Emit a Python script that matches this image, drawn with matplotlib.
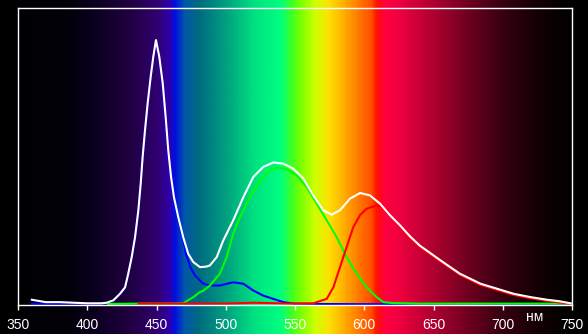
import numpy as np
import matplotlib
matplotlib.use("Agg")
import matplotlib.pyplot as plt
from matplotlib.colors import LinearSegmentedColormap

# spectrum of the display: white and the three primaries (relative intensity)
white_nm = [360, 365, 370, 380, 390, 400, 410, 414, 418.8, 423.6, 427.3, 429.6, 432.1, 434.5,
            436.9, 438.6, 440.0, 441.7, 443.6, 445.8, 447.7, 449.6, 452.0, 454.5, 456.6,
            458.5, 460.5, 462.6, 465.7, 469.3, 472.9, 476.6, 481.4, 486.2, 488.6, 493.5,
            498.2, 505.4, 512.7, 519.9, 527.1, 534.3, 541.6, 548.8, 556, 563.2, 570.4,
            576.5, 582.5, 589.7, 597, 604.1, 611.4, 618.6, 625.8, 633, 640, 655, 669, 684,
            696, 708, 720, 732, 741, 749]
white = [0.016, 0.012, 0.008, 0.008, 0.006, 0.004, 0.004, 0.006, 0.014, 0.036, 0.058, 0.104,
         0.16, 0.227, 0.318, 0.408, 0.498, 0.588, 0.678, 0.768, 0.836, 0.892, 0.836, 0.746,
         0.633, 0.52, 0.430, 0.362, 0.295, 0.227, 0.171, 0.143, 0.126, 0.128, 0.132, 0.160,
         0.216, 0.284, 0.362, 0.430, 0.464, 0.479, 0.475, 0.458, 0.425, 0.368, 0.318, 0.303,
         0.318, 0.357, 0.376, 0.368, 0.340, 0.301, 0.267, 0.230, 0.199, 0.149, 0.104, 0.070,
         0.053, 0.036, 0.025, 0.016, 0.011, 0.004]

blue_nm = [360, 370, 380, 390, 400, 410, 414, 418.8, 423.6, 427.3, 429.6, 432.1, 434.5, 436.9,
           438.6, 440.0, 441.7, 443.6, 445.8, 447.7, 449.6, 452.0, 454.5, 456.6, 458.5,
           460.5, 462.6, 465.7, 469.3, 471.3, 474.5, 477.8, 481.4, 483.8, 488.6, 495.8,
           505.4, 512.7, 519.9, 527.1, 534.3, 541.6, 548.8, 560, 600, 750]
blue = [0.002, 0.003, 0.003, 0.003, 0.003, 0.003, 0.005, 0.012, 0.034, 0.056, 0.10, 0.156,
        0.223, 0.314, 0.404, 0.494, 0.584, 0.674, 0.764, 0.832, 0.888, 0.832, 0.742, 0.629,
        0.516, 0.426, 0.358, 0.290, 0.222, 0.17, 0.125, 0.098, 0.081, 0.07, 0.064, 0.064,
        0.075, 0.070, 0.047, 0.030, 0.019, 0.008, 0.003, 0.002, 0.001, 0.0]

green_nm = [415, 440, 460, 469.3, 476.6, 481.4, 483.8, 488.6, 495.8, 500.7, 505.4, 510.3,
            517.5, 524.7, 531.9, 537.9, 544, 551.2, 558.4, 565.7, 572.9, 580.1, 587.3, 594.5,
            601.7, 608.9, 613.8, 620, 640, 700, 750]
green = [0.002, 0.003, 0.003, 0.004, 0.025, 0.042, 0.047, 0.064, 0.104, 0.160, 0.239, 0.295,
         0.362, 0.419, 0.453, 0.462, 0.456, 0.436, 0.396, 0.340, 0.284, 0.227, 0.160, 0.104,
         0.058, 0.025, 0.008, 0.005, 0.003, 0.003, 0.003]

red_nm = [437, 460, 500, 520, 530, 545, 563.2, 572.9, 577.7, 582.5, 587.3, 592.1, 596.9,
          601.7, 608.9, 616.1, 620, 625.8, 633, 640, 655, 669, 684, 696, 708, 720, 732,
          741, 749]
red = [0.003, 0.003, 0.003, 0.006, 0.005, 0.003, 0.004, 0.019, 0.058, 0.126, 0.194, 0.261,
       0.301, 0.323, 0.334, 0.323, 0.29, 0.262, 0.225, 0.194, 0.145, 0.100, 0.066, 0.049,
       0.032, 0.021, 0.012, 0.007, 0.002]

ticks = [350, 400, 450, 500, 550, 600, 650, 700, 750]

# colours of the rainbow strip behind the plot
spec_nm = [330, 385, 400, 430, 450, 459, 463, 470, 480, 500, 520, 540, 548, 555, 565,
           575, 585, 595, 605, 610, 615, 625, 650, 675, 700, 725, 750, 770]
spec_col = ["#000000", "#020008", "#08001a", "#200040", "#300070", "#3000a8", "#0010e0",
            "#0058a8", "#006a80", "#00a080", "#00e080", "#00ff80", "#40ff20", "#80ff00",
            "#d0ff00", "#ffe000", "#ffb000", "#ff8000", "#ff5000", "#ff1000", "#ff0040",
            "#f00040", "#b00030", "#700020", "#380010", "#150005", "#000000", "#000000"]

W, H = 588, 334
left, right, top, bottom = 18, 572, 8, 304.5
xmin = 350 - left * 400 / (right - left)
xmax = 750 + (W - right) * 400 / (right - left)

fig = plt.figure(figsize=(W / 100, H / 100), dpi=100, facecolor="black")

# background gradient across the whole figure
bg = fig.add_axes([0, 0, 1, 1])
pos = [(n - spec_nm[0]) / (spec_nm[-1] - spec_nm[0]) for n in spec_nm]
cmap = LinearSegmentedColormap.from_list("spec", list(zip(pos, spec_col)))
grid = np.linspace(xmin, xmax, 600)
vals = (grid - spec_nm[0]) / (spec_nm[-1] - spec_nm[0])
bg.imshow(vals[np.newaxis, :], cmap=cmap, vmin=0, vmax=1, aspect="auto",
          extent=(xmin, xmax, 0, 1), interpolation="bilinear")
bg.set_xlim(xmin, xmax)
bg.axis("off")

ax = fig.add_axes([left / W, (H - bottom) / H, (right - left) / W, (bottom - top) / H])
ax.patch.set_alpha(0)
ax.plot(blue_nm, blue, color="#0000ff", lw=1.5)
ax.plot(green_nm, green, color="#00ff00", lw=1.5)
ax.plot(red_nm, red, color="#ff0000", lw=1.5)
ax.plot(white_nm, white, color="white", lw=1.5)

ax.set_xlim(350, 750)
ax.set_ylim(0, 1)
ax.set_xticks(ticks)
ax.set_xticklabels([str(t) for t in ticks], family="Liberation Sans", fontsize=10, color="white")
ax.set_yticks([])
ax.tick_params(axis="x", colors="white", length=3.5, width=1, pad=6)
for s in ax.spines.values():
    s.set_color("white")
    s.set_linewidth(1)

ax.text(723, -0.042, "нм", transform=ax.get_xaxis_transform(), ha="center", va="center",
        color="white", fontsize=10, family="Liberation Sans")

fig.savefig("out.png", dpi=100, facecolor="black")
